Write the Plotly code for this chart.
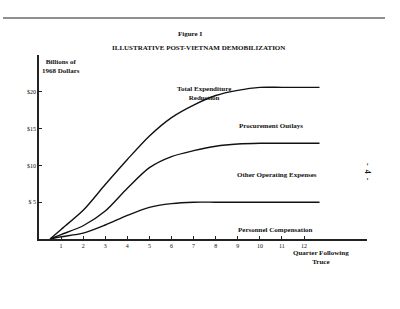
import plotly.graph_objects as go

quarters = [0.5, 1, 2, 3, 4, 5, 6, 7, 8, 9, 10, 11, 12, 12.7]
total_reduction = [0, 1.3, 3.9, 7.4, 10.8, 14.0, 16.5, 18.2, 19.5, 20.2, 20.6, 20.6, 20.6, 20.6]
procurement_cum = [0, 0.6, 1.8, 3.8, 6.9, 9.7, 11.2, 12.0, 12.6, 12.9, 13.0, 13.0, 13.0, 13.0]
personnel = [0, 0.3, 0.8, 1.9, 3.2, 4.3, 4.8, 5.0, 5.0, 5.0, 5.0, 5.0, 5.0, 5.0]

x_ticks = list(range(1, 13))
y_ticks = [5, 10, 15, 20]
y_ticktext = ["$ 5", "$10", "$15", "$20"]

FONT = "Liberation Serif"
INK = "#111111"
L, R, T, B = 39, 33, 55, 70
W, H = 400, 309
PW, PH = W - L - R, H - T - B

fig = go.Figure()
for ys in [total_reduction, procurement_cum, personnel]:
    fig.add_trace(go.Scatter(x=quarters, y=ys, mode="lines",
                             line=dict(color=INK, width=1.4, shape="spline", smoothing=0.8),
                             showlegend=False, hoverinfo="skip"))


def px2paper(px, py):
    return (px - L) / PW, (H - B - py) / PH


def ptxt(px, py, s, size=7, **kw):
    x, y = px2paper(px, py)
    fig.add_annotation(x=x, y=y, xref="paper", yref="paper", text=s, showarrow=False,
                       font=dict(family=FONT, size=size, color=INK),
                       xanchor="center", yanchor="middle", **kw)


# series labels (placed in page pixel positions)
ptxt(204, 93.5, "<b>Total Expenditure<br>Reduction</b>")
ptxt(271, 125.5, "<b>Procurement Outlays</b>")
ptxt(277, 175, "<b>Other Operating Expenses</b>")
ptxt(275, 230, "<b>Personnel Compensation</b>")

# titles and axis captions
ptxt(190, 34, "<b>Figure I</b>")
ptxt(198, 48, "<b>ILLUSTRATIVE POST-VIETNAM DEMOBILIZATION</b>")
ptxt(61, 66, "<b>Billions of<br>1968 Dollars</b>")
ptxt(321, 257.5, "<b>Quarter Following<br>Truce</b>")
ptxt(368, 172, "<b>-  4  -</b>", size=8, textangle=90)

fig.update_layout(
    width=W, height=H,
    margin=dict(l=L, r=R, t=T, b=B),
    paper_bgcolor="white", plot_bgcolor="white",
    xaxis=dict(range=[0, 14.85], tickvals=x_ticks, ticktext=[str(v) for v in x_ticks],
               showgrid=False, zeroline=False, showline=True, linecolor="#222222", linewidth=1.5,
               ticks="inside", ticklen=3, tickcolor="#222222",
               tickfont=dict(family=FONT, size=6, color=INK)),
    yaxis=dict(range=[0, 25], tickvals=y_ticks, ticktext=y_ticktext,
               showgrid=False, zeroline=False, showline=True, linecolor="#222222", linewidth=1.5,
               ticks="inside", ticklen=3, tickcolor="#222222",
               tickfont=dict(family=FONT, size=6, color=INK)),
)

# top page rule from the scan
x0, y0 = px2paper(3, 18)
x1, _ = px2paper(385, 18)
fig.add_shape(type="line", xref="paper", yref="paper", x0=x0, x1=x1, y0=y0, y1=y0,
              line=dict(color="#222222", width=1.2))

fig.write_html("out.html")
